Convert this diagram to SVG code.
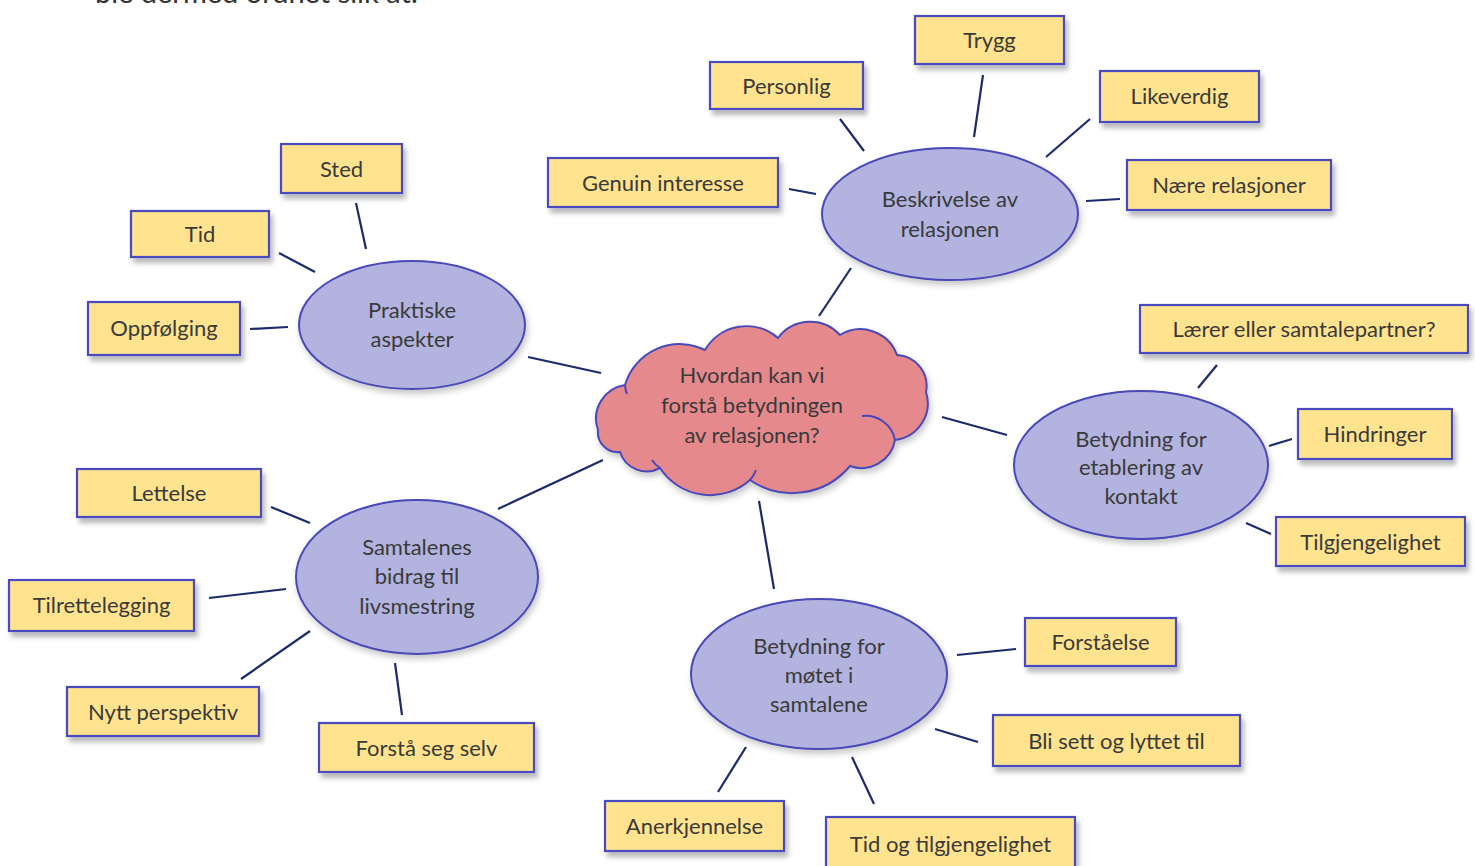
<svg xmlns="http://www.w3.org/2000/svg" width="1475" height="866" viewBox="0 0 1475 866">
<defs>
<filter id="sh" x="-20%" y="-20%" width="150%" height="160%">
<feDropShadow dx="3" dy="5" stdDeviation="2.5" flood-color="#000" flood-opacity="0.28"/>
</filter>
<filter id="sh2" x="-20%" y="-20%" width="150%" height="160%">
<feDropShadow dx="2" dy="4" stdDeviation="3" flood-color="#000" flood-opacity="0.22"/>
</filter>
</defs>
<style>
.box{fill:#FFE38E;stroke:#4A4AC0;stroke-width:2.2;filter:url(#sh)}
.ell{fill:#B3B3DF;stroke:#4848B8;stroke-width:2;filter:url(#sh2)}
.cloud{fill:#E6898D;stroke:#4848B8;stroke-width:2;filter:url(#sh2)}
text{font-family:Lato,"Open Sans","Liberation Sans",sans-serif;font-size:22px;fill:#3a3a3a;text-anchor:middle}
.con line{stroke:#1B2A6B;stroke-width:2.2}
.top{fill:#333;font-size:29px;text-anchor:start}
</style>
<text class="top" x="95" y="3">ble dermed ordnet slik at:</text>
<g class="con">
<line x1="983" y1="75" x2="974" y2="137"/>
<line x1="840" y1="119" x2="864" y2="151"/>
<line x1="1090" y1="119" x2="1046" y2="157"/>
<line x1="789" y1="189" x2="816" y2="194"/>
<line x1="1086" y1="201" x2="1120" y2="199"/>
<line x1="851" y1="268" x2="819" y2="316"/>
<line x1="356" y1="203" x2="366" y2="249"/>
<line x1="279" y1="253" x2="315" y2="272"/>
<line x1="250" y1="329" x2="288" y2="327"/>
<line x1="528" y1="357" x2="601" y2="373"/>
<line x1="1217" y1="365" x2="1198" y2="388"/>
<line x1="1269" y1="446" x2="1292" y2="439"/>
<line x1="1246" y1="523" x2="1271" y2="534"/>
<line x1="942" y1="417" x2="1007" y2="435"/>
<line x1="271" y1="507" x2="310" y2="523"/>
<line x1="209" y1="598" x2="286" y2="589"/>
<line x1="241" y1="679" x2="310" y2="631"/>
<line x1="395" y1="663" x2="402" y2="715"/>
<line x1="498" y1="509" x2="603" y2="460"/>
<line x1="759" y1="501" x2="774" y2="589"/>
<line x1="957" y1="655" x2="1016" y2="649"/>
<line x1="935" y1="729" x2="978" y2="742"/>
<line x1="746" y1="747" x2="718" y2="792"/>
<line x1="852" y1="757" x2="874" y2="804"/>
</g>
<g id="center">
<path class="cloud" d="M598,430 A34,34 0 0 1 625,385 A57,57 0 0 1 705,350 A48,48 0 0 1 778,338 A40,40 0 0 1 840,335 A39,39 0 0 1 897,355 A31,31 0 0 1 926,392 A37,37 0 0 1 895,440 A34,34 0 0 1 850,466 A75,75 0 0 1 750,480 A60,60 0 0 1 660,468 A28,28 0 0 1 620,452 A20,20 0 0 1 598,430 Z"/>
<path d="M625,385 A25,25 0 0 0 627,394 M895,440 A30,30 0 0 0 862,416 M660,468 A25,25 0 0 1 652,460 M750,480 A30,30 0 0 0 756,470" fill="none" stroke="#4848B8" stroke-width="2"/>
<text x="752" y="383">Hvordan kan vi</text>
<text x="752" y="413">forstå betydningen</text>
<text x="752" y="443">av relasjonen?</text>
</g>
<g id="beskrivelse">
<ellipse class="ell" cx="950" cy="214" rx="128" ry="66"/>
<text x="950" y="207">Beskrivelse av</text>
<text x="950" y="237">relasjonen</text>
</g>
<g id="praktiske">
<ellipse class="ell" cx="412" cy="325" rx="113" ry="64"/>
<text x="412" y="318">Praktiske</text>
<text x="412" y="347">aspekter</text>
</g>
<g id="etablering">
<ellipse class="ell" cx="1141" cy="465" rx="127" ry="74"/>
<text x="1141" y="447">Betydning for</text>
<text x="1141" y="475">etablering av</text>
<text x="1141" y="504">kontakt</text>
</g>
<g id="samtalenes">
<ellipse class="ell" cx="417" cy="577" rx="121" ry="77"/>
<text x="417" y="555">Samtalenes</text>
<text x="417" y="584">bidrag til</text>
<text x="417" y="614">livsmestring</text>
</g>
<g id="motet">
<ellipse class="ell" cx="819" cy="674" rx="128" ry="75"/>
<text x="819" y="654">Betydning for</text>
<text x="819" y="683">møtet i</text>
<text x="819" y="712">samtalene</text>
</g>
<g id="trygg"><rect class="box" x="915" y="16" width="149" height="48"/><text x="989.5" y="48">Trygg</text></g>
<g id="personlig"><rect class="box" x="710" y="62" width="153" height="47"/><text x="786.5" y="94">Personlig</text></g>
<g id="likeverdig"><rect class="box" x="1100" y="71" width="159" height="51"/><text x="1179.5" y="104">Likeverdig</text></g>
<g id="genuin"><rect class="box" x="548" y="158" width="230" height="49"/><text x="663" y="191">Genuin interesse</text></g>
<g id="naere"><rect class="box" x="1127" y="160" width="204" height="50"/><text x="1229" y="193">Nære relasjoner</text></g>
<g id="sted"><rect class="box" x="281" y="144" width="121" height="49"/><text x="341.5" y="177">Sted</text></g>
<g id="tid"><rect class="box" x="131" y="211" width="138" height="46"/><text x="200" y="242">Tid</text></g>
<g id="oppfolging"><rect class="box" x="88" y="302" width="152" height="53"/><text x="164" y="336">Oppfølging</text></g>
<g id="laerer"><rect class="box" x="1140" y="305" width="328" height="48"/><text x="1304" y="337">Lærer eller samtalepartner?</text></g>
<g id="hindringer"><rect class="box" x="1298" y="409" width="154" height="50"/><text x="1375" y="442">Hindringer</text></g>
<g id="tilgjengelighet"><rect class="box" x="1276" y="517" width="189" height="49"/><text x="1370.5" y="550">Tilgjengelighet</text></g>
<g id="lettelse"><rect class="box" x="77" y="469" width="184" height="48"/><text x="169" y="501">Lettelse</text></g>
<g id="tilrettelegging"><rect class="box" x="9" y="580" width="185" height="51"/><text x="101.5" y="613">Tilrettelegging</text></g>
<g id="nytt"><rect class="box" x="67" y="687" width="192" height="49"/><text x="163" y="720">Nytt perspektiv</text></g>
<g id="forstaa"><rect class="box" x="319" y="723" width="215" height="49"/><text x="426.5" y="756">Forstå seg selv</text></g>
<g id="forstaaelse"><rect class="box" x="1025" y="618" width="151" height="48"/><text x="1100.5" y="650">Forståelse</text></g>
<g id="blisett"><rect class="box" x="993" y="715" width="247" height="51"/><text x="1116.5" y="749">Bli sett og lyttet til</text></g>
<g id="anerkjennelse"><rect class="box" x="605" y="801" width="179" height="50"/><text x="694.5" y="834">Anerkjennelse</text></g>
<g id="tidogtilg"><rect class="box" x="826" y="817" width="249" height="60"/><text x="950.5" y="852">Tid og tilgjengelighet</text></g>
</svg>
